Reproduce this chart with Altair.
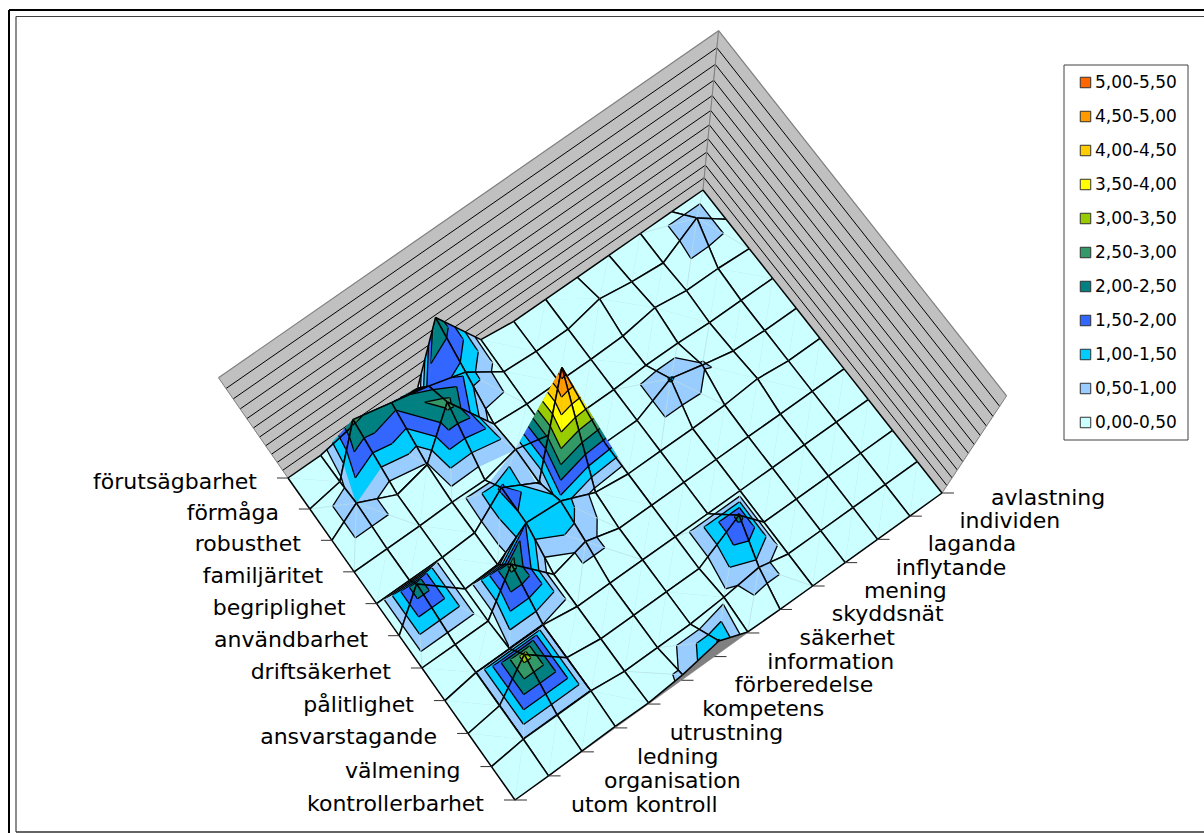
import altair as alt
import numpy as np
import pandas as pd

# Categories along the two floor axes, front corner first
x_categories = ["utom kontroll", "organisation", "ledning", "utrustning", "kompetens",
                "förberedelse", "information", "säkerhet", "skyddsnät", "mening",
                "inflytande", "laganda", "individen", "avlastning"]
y_categories = ["kontrollerbarhet", "välmening", "ansvarstagande", "pålitlighet",
                "driftsäkerhet", "användbarhet", "begriplighet", "familjäritet",
                "robusthet", "förmåga", "förutsägbarhet"]

# Surface values, one list per y category, in x_categories order
kontrollerbarhet = [0, 0, 0.1, 0.2, 0.15, 0.6, 1.55, 0.1, 0, 0, 0, 0, 0, 0]
valmening = [0, 0.48, 0.48, 0.48, 0, 0, 0, 0.3, 0.8, 0, 0, 0, 0, 0]
ansvarstagande = [0, 0.48, 3.25, 0.48, 0, 0, 0, 0, 2.15, 0, 0, 0, 0, 0]
palitlighet = [0, 0.48, 0.48, 0.48, 0, 0, 0, 0, 0, 0, 0, 0, 0, 0]
driftsakerhet = [0, 0, 0, 2.7, 0, 0.75, 0, 0, 0, 0, 0, 0, 0, 0]
anvandbarhet = [0, 2.4, 0, 0.1, 1.45, 1.3, 0.3, 0, 0, 0, 0.05, 0.25, 0, 0]
begriplighet = [0, 0, 0, 0.1, 1.6, 0.4, 5.3, 0, 0, 1.05, 0.55, 0.1, 0, 0]
familjaritet = [0, 0, 0, 0.05, 0, 0.5, 0, 0, 0, 0.1, 0.1, 0, 0, 0]
robusthet = [0, 1.0, 0, 0.45, 2.7, 0.15, 0, 0, 0, 0.05, 0.35, 0.1, 0.1, 0]
formaga = [0, 0.3, 2.6, 2.2, 1.8, 1.3, 0.1, 0, 0, 0.4, 0.15, 0, 1.0, 0]
forutsagbarhet = [0, 0, 0.3, 0.1, 0, 2.4, 0.2, 0, 0, 0, 0, 0, 0, 0]

band_labels = ["5,00-5,50", "4,50-5,00", "4,00-4,50", "3,50-4,00", "3,00-3,50", "2,50-3,00",
               "2,00-2,50", "1,50-2,00", "1,00-1,50", "0,50-1,00", "0,00-0,50"]
band_colors = ["#FF6600", "#FF9900", "#FFCC00", "#FFFF00", "#99CC00", "#339966",
               "#008080", "#3366FF", "#00CCFF", "#99CCFF", "#CCFFFF"]
BAND_STEP = 0.5
Z_MAX = 5.5
UNDER, WALL = "golv", "vägg"
UNDER_COLOR, WALL_COLOR = "#808080", "#C0C0C0"

# Camera: floor corners on the page and the point straight below the viewer
CORNERS = {"front": (515, 800), "right": (942, 493), "left": (288, 478), "back": (703, 190)}
NADIR = np.array([627.0, 967.0])
TOP_SCALE = 1.205

Z = np.array([kontrollerbarhet, valmening, ansvarstagande, palitlighet, driftsakerhet,
              anvandbarhet, begriplighet, familjaritet, robusthet, formaga, forutsagbarhet], float)
NJ, NI = Z.shape


def floor_homography():
    src = [(0, 0), (NI - 1, 0), (0, NJ - 1), (NI - 1, NJ - 1)]
    dst = [CORNERS["front"], CORNERS["right"], CORNERS["left"], CORNERS["back"]]
    A, b = [], []
    for (u, v), (x, y) in zip(src, dst):
        A.append([u, v, 1, 0, 0, 0, -u * x, -v * x])
        A.append([0, 0, 0, u, v, 1, -u * y, -v * y])
        b += [x, y]
    return np.append(np.linalg.solve(np.array(A, float), np.array(b, float)), 1).reshape(3, 3)


H = floor_homography()
H_INV = np.linalg.inv(H)
nadir_grid = H_INV @ np.array([NADIR[0], NADIR[1], 1.0])
nadir_grid = nadir_grid[:2] / nadir_grid[2]
LIFT = (1 - 1 / TOP_SCALE) / Z_MAX


def project(i, j, z=0.0):
    p = H @ np.array([i, j, 1.0])
    p = p[:2] / p[2]
    q = NADIR + (p - NADIR) / (1 - LIFT * z)
    return [round(float(q[0]), 2), round(float(q[1]), 2)]


features = []


def add_polygon(points, band, color):
    ring = [project(*p) for p in points]
    ring.append(ring[0])
    features.append({"type": "Feature",
                     "geometry": {"type": "Polygon", "coordinates": [ring]},
                     "properties": {"band": band, "line": color, "width": 0.5}})


def add_segment(a, b, color="#000000", width=1.5):
    features.append({"type": "Feature",
                     "geometry": {"type": "LineString", "coordinates": [a, b]},
                     "properties": {"band": WALL, "line": color, "width": width}})


def clip_band(tri, lo, hi):
    """Keep the part of a triangle whose height lies between lo and hi."""
    def clip(poly, level, keep_above):
        out = []
        for k, a in enumerate(poly):
            b = poly[(k + 1) % len(poly)]
            ina = a[2] >= level if keep_above else a[2] <= level
            inb = b[2] >= level if keep_above else b[2] <= level
            if ina:
                out.append(a)
            if ina != inb:
                t = (level - a[2]) / (b[2] - a[2])
                out.append(tuple(a[n] + t * (b[n] - a[n]) for n in range(3)))
        return out
    poly = clip(list(tri), lo, True)
    return clip(poly, hi, False) if poly else []


def contour_segment(tri, level):
    hits = []
    for k in range(3):
        a, b = tri[k], tri[(k + 1) % 3]
        if (a[2] - level) * (b[2] - level) < 0:
            t = (level - a[2]) / (b[2] - a[2])
            hits.append(tuple(a[n] + t * (b[n] - a[n]) for n in range(3)))
    return hits if len(hits) == 2 else None


def signed_area(points):
    pts = [project(*p) for p in points]
    return ((pts[1][0] - pts[0][0]) * (pts[2][1] - pts[0][1])
            - (pts[2][0] - pts[0][0]) * (pts[1][1] - pts[0][1]))


# Floor, then the back walls with a line at every band step
add_polygon([(0, 0, 0), (NI - 1, 0, 0), (NI - 1, NJ - 1, 0), (0, NJ - 1, 0)], UNDER, UNDER_COLOR)
for base_a, base_b in [((0, NJ - 1), (NI - 1, NJ - 1)), ((NI - 1, NJ - 1), (NI - 1, 0))]:
    add_polygon([(*base_a, 0), (*base_b, 0), (*base_b, Z_MAX), (*base_a, Z_MAX)], WALL, WALL_COLOR)
    for n in range(1, 11):
        level = n * BAND_STEP
        add_segment(project(*base_a, level), project(*base_b, level), "#000000", 1.0)
    add_segment(project(*base_a, Z_MAX), project(*base_b, Z_MAX), "#808080", 1.2)
    add_segment(project(*base_a, 0), project(*base_a, Z_MAX), "#808080", 1.0)
    add_segment(project(*base_b, 0), project(*base_b, Z_MAX), "#808080", 1.0)

# Surface cells, painted from the far side of the viewer to the near side
cells = [(i, j) for j in range(NJ - 1) for i in range(NI - 1)]
cells.sort(key=lambda c: -np.hypot(c[0] + 0.5 - nadir_grid[0], c[1] + 0.5 - nadir_grid[1]))
levels = [n * BAND_STEP for n in range(1, 11)]
bands_low_to_high = list(zip(band_labels[::-1], band_colors[::-1]))

for i, j in cells:
    corners = [(i, j, Z[j, i]), (i + 1, j, Z[j, i + 1]),
               (i + 1, j + 1, Z[j + 1, i + 1]), (i, j + 1, Z[j + 1, i])]
    top = int(np.argmax([c[2] for c in corners]))
    a, b, c, d = [corners[(top + n) % 4] for n in range(4)]
    tris = [(a, b, c), (a, c, d)]
    tris.sort(key=lambda t: -np.hypot(sum(p[0] for p in t) / 3 - nadir_grid[0],
                                      sum(p[1] for p in t) / 3 - nadir_grid[1]))
    for tri in tris:
        flat = [(p[0], p[1], 0.0) for p in tri]
        if signed_area(tri) * signed_area(flat) < 0:
            add_polygon(tri, UNDER, UNDER_COLOR)
            continue
        for n, (label, color) in enumerate(bands_low_to_high):
            poly = clip_band(tri, n * BAND_STEP, (n + 1) * BAND_STEP)
            if len(poly) >= 3:
                add_polygon(poly, label, color)
        for level in levels:
            seg = contour_segment(tri, level)
            if seg:
                add_segment(project(*seg[0]), project(*seg[1]), "#000000", 1.3)
    # Cell diagonal shows only faintly, and only on the lowest bands
    if max(p[2] for p in corners) - min(p[2] for p in corners) > 0.5:
        end = a
        if a[2] > 1.0 and c[2] < 1.0:
            t = (a[2] - 1.0) / (a[2] - c[2])
            end = tuple(a[n] + t * (c[n] - a[n]) for n in range(3))
        if end[2] <= 1.0:
            add_segment(project(*end), project(*c), "#BCE2E8", 0.7)
    for n in range(4):
        add_segment(project(*corners[n]), project(*corners[(n + 1) % 4]), "#000000", 1.5)

# Axis ticks and labels along the two front edges
left_labels, right_labels = [], []
for j, name in enumerate(y_categories):
    x, y = project(0, j)
    add_segment([x, y], [x - 11, y], "#303030", 1.0)
    left_labels.append({"label": name, "px": x - 31, "py": y + 4})
for i, name in enumerate(x_categories):
    x, y = project(i, 0)
    add_segment([x, y], [x + 12, y], "#303030", 1.0)
    right_labels.append({"label": name, "px": x + 56 - 0.53 * i, "py": y + 5})

# Page frame, open at the right, and the legend box
RIGHT_EDGE, BOTTOM_EDGE = 1204, 832
add_segment([9, 10], [RIGHT_EDGE, 10], "#000000", 2.0)
add_segment([9, 10], [9, 833], "#000000", 2.0)
add_segment([16, 16.5], [RIGHT_EDGE, 16.5], "#404040", 1.2)
add_segment([16, 16.5], [16, BOTTOM_EDGE], "#404040", 1.2)
add_segment([16, BOTTOM_EDGE], [RIGHT_EDGE, BOTTOM_EDGE], "#303030", 1.6)
x0, y0, x1, y1 = (1064, 65, 1188, 440)
add_segment([x0, y0], [x1, y0], "#404040", 1.0)
add_segment([x1, y0], [x1, y1], "#404040", 1.0)
add_segment([x1, y1], [x0, y1], "#404040", 1.0)
add_segment([x0, y1], [x0, y0], "#404040", 1.0)

surface = alt.Chart(alt.InlineData(values={"type": "FeatureCollection", "features": features},
                                   format=alt.DataFormat(property="features", type="json"))
                    ).mark_geoshape(strokeJoin="round").encode(
    fill=alt.Fill("properties.band:N",
                  scale=alt.Scale(domain=band_labels + [UNDER, WALL],
                                  range=band_colors + [UNDER_COLOR, WALL_COLOR]),
                  legend=alt.Legend(values=band_labels, title=None, orient="none",
                                    legendX=1077, legendY=74, symbolType="square", symbolSize=110,
                                    symbolStrokeColor="#303030", symbolStrokeWidth=1,
                                    labelFont="DejaVu Sans", labelFontSize=17, labelColor="#000000",
                                    rowPadding=16, labelOffset=1)),
    stroke=alt.Stroke("properties.line:N", scale=None),
    strokeWidth=alt.StrokeWidth("properties.width:Q", scale=None),
).project(type="identity", scale=1, translate=[0, 0])


def label_layer(rows, align):
    return alt.Chart(pd.DataFrame(rows)).mark_text(
        align=align, baseline="middle", font="DejaVu Sans", fontSize=22, color="#000000"
    ).encode(x=alt.X("px:Q", scale=None, axis=None),
             y=alt.Y("py:Q", scale=None, axis=None),
             text="label:N")


chart = alt.layer(surface, label_layer(left_labels, "right"), label_layer(right_labels, "left")).properties(
    width=1204, height=833, padding=0, autosize=alt.AutoSizeParams(type="none"),
    background="#FFFFFF"
).configure_view(stroke=None)

chart.save("out.html", embed_options={"renderer": "svg", "actions": False})
